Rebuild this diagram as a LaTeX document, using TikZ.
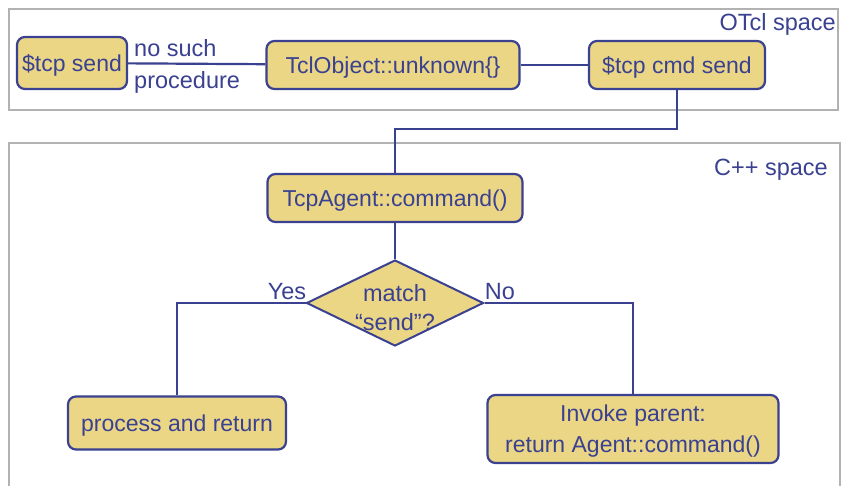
\documentclass[tikz,border=0pt]{standalone}
\usepackage{fontspec}
\setmainfont{Liberation Sans}
\usetikzlibrary{shapes.geometric}

\definecolor{boxfill}{HTML}{EBD685}
\definecolor{navy}{HTML}{3A4190}
\definecolor{framegray}{HTML}{B2B2B2}

\tikzset{
  block/.style={draw=navy, fill=boxfill, line width=2.2pt, rounded corners=8pt,
    text=navy, font=\fontsize{23}{31}\selectfont, inner sep=0pt, text depth=0pt},
  decision/.style={draw=navy, fill=boxfill, line width=2pt, diamond,
    minimum width=177pt, minimum height=86pt, inner sep=0pt},
  txt/.style={text=navy, font=\fontsize{23.5}{32}\selectfont, inner sep=0pt},
  wire/.style={draw=navy, line width=2.2pt},
  space/.style={draw=framegray, line width=2pt}
}

\begin{document}
\begin{tikzpicture}[x=1pt,y=-1pt]
    \useasboundingbox[fill=white] (0,0) rectangle (841,485);

    % the two spaces
    \draw[space] (9,9) rectangle (838,110);
    \draw[space] (9,143) rectangle (840,500);
    \node[txt, anchor=east] (otcl) at (836,24) {OTcl space};
    \node[txt, anchor=east] (cpp) at (828,170) {C++ space};

    % OTcl side
    \node[block, minimum width=110pt, minimum height=52pt] (send) at (72,63) {\$tcp send};
    \node[block, minimum width=253pt, minimum height=48pt] (unknown) at (393,65) {TclObject::unknown\{\}};
    \node[block, minimum width=176pt, minimum height=48pt] (cmd) at (677,65) {\$tcp cmd send};
    \node[txt, align=left, anchor=west] (nosuch) at (134,66) {no such\\procedure};

    \draw[wire] (send) -- (unknown);
    \draw[wire] (unknown) -- (cmd);

    % C++ side
    \node[block, minimum width=255pt, minimum height=48pt] (tcpa) at (395,198) {TcpAgent::command()};
    \node[decision] (match) at (395,303) {};
    \node[txt, align=center, font=\fontsize{23.5}{29}\selectfont] (matchtxt) at (395,308) {match\\“send”?};
    \node[block, minimum width=218pt, minimum height=53pt] (proc) at (177,423) {process and return};
    \node[block, align=center, minimum width=291pt, minimum height=68pt] (parent) at (633,429) {Invoke parent:\\return Agent::command()};

    \draw[wire] (cmd.south) -- ++(0,39) -| (tcpa.north);
    \draw[wire] (tcpa) -- (match);
    \draw[wire] (match.west) -| (proc.north);
    \draw[wire] (match.east) -| (parent.north);

    \node[txt] (yes) at (287,292) {Yes};
    \node[txt] (no) at (500,292) {No};
\end{tikzpicture}
\end{document}
